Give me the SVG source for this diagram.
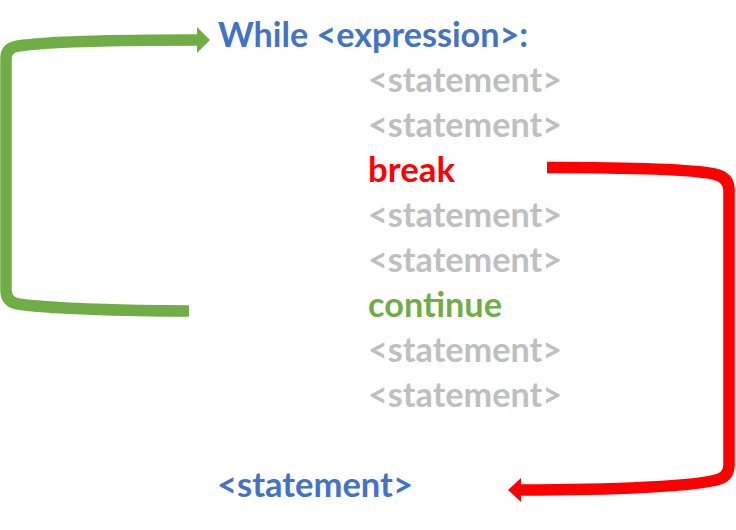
<svg xmlns="http://www.w3.org/2000/svg" width="736" height="530" viewBox="0 0 736 530">
<style>
text{font-family:Lato,"Open Sans","Liberation Sans",sans-serif;font-weight:bold;font-size:34px}
.blue{fill:#4472C4}.gray{fill:#BFBFBF}.red{fill:#FF0000}.green{fill:#70AD47}
.conn{fill:none;stroke-width:11.5;stroke-linejoin:round}
</style>
<rect width="736" height="530" fill="#fff"/>
<g id="connectors">
<path class="conn" stroke="#70AD47" d="M189,311 C120,311 45,308 18,304 Q6,302 6,290 V58 Q6,48 18,46 C45,42 120,40 198,40"/>
<polygon fill="#70AD47" points="197,27 210,40 197,53"/>
<path class="conn" stroke="#FF0000" d="M547,167.5 C620,167.5 690,169 714,174 Q729,177 729,190 V465 Q729,478 714,480.5 C690,486 620,490 520,490"/>
<polygon fill="#FF0000" points="521,478 508,490 521,502"/>
</g>
<g id="while"><text class="blue" x="218" y="47" textLength="310" lengthAdjust="spacingAndGlyphs">While &lt;expression&gt;:</text></g>
<g id="s1"><text class="gray" x="368" y="92" textLength="194" lengthAdjust="spacingAndGlyphs">&lt;statement&gt;</text></g>
<g id="s2"><text class="gray" x="368" y="137" textLength="194" lengthAdjust="spacingAndGlyphs">&lt;statement&gt;</text></g>
<g id="break"><text class="red" x="368" y="182" textLength="87" lengthAdjust="spacingAndGlyphs">break</text></g>
<g id="s3"><text class="gray" x="368" y="227" textLength="194" lengthAdjust="spacingAndGlyphs">&lt;statement&gt;</text></g>
<g id="s4"><text class="gray" x="368" y="272" textLength="194" lengthAdjust="spacingAndGlyphs">&lt;statement&gt;</text></g>
<g id="continue"><text class="green" x="368" y="317" textLength="134" lengthAdjust="spacingAndGlyphs">continue</text></g>
<g id="s5"><text class="gray" x="368" y="362" textLength="194" lengthAdjust="spacingAndGlyphs">&lt;statement&gt;</text></g>
<g id="s6"><text class="gray" x="368" y="407" textLength="194" lengthAdjust="spacingAndGlyphs">&lt;statement&gt;</text></g>
<g id="after"><text class="blue" x="217" y="497" textLength="196" lengthAdjust="spacingAndGlyphs">&lt;statement&gt;</text></g>
</svg>
